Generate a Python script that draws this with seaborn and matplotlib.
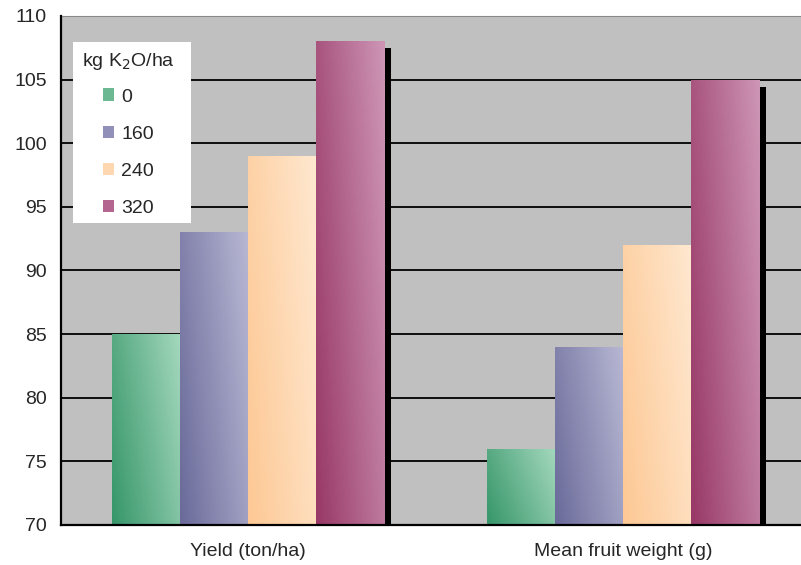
import numpy as np
import pandas as pd
import matplotlib
matplotlib.use('Agg')
import matplotlib.pyplot as plt
import matplotlib.patheffects as pe
from matplotlib.patches import Rectangle, Patch
from matplotlib.colors import to_rgb
import seaborn as sns

# data
measures = ['Yield (ton/ha)', 'Mean fruit weight (g)']
doses = ['0', '160', '240', '320']
yield_vals = [85, 93, 99, 108]
weight_vals = [76, 84, 92, 105]

# dark / light ends of each bar gradient
dark_cols = ['#36966a', '#6a6a9a', '#fdc894', '#983866']
light_cols = ['#a4d8bd', '#b8b8d4', '#ffe8d0', '#ce96b6']
mid_cols = ['#6cb892', '#9090b8', '#ffd8b2', '#b46690']

df = pd.DataFrame({
    'measure': [m for m in measures for _ in doses],
    'dose': doses * 2,
    'value': yield_vals + weight_vals,
})

sns.set_style('white')
plt.rcParams['font.family'] = ['Liberation Sans', 'DejaVu Sans']
fs = 14

fig = plt.figure(figsize=(8.01, 5.65), dpi=100)
ax = fig.add_axes([61 / 801, 40 / 565, 749 / 801, 509 / 565])
ax.set_facecolor('#c0c0c0')

sns.barplot(data=df, x='measure', y='value', hue='dose', palette=mid_cols,
            width=0.727, saturation=1, legend=False, ax=ax, zorder=2,
            edgecolor='none', linewidth=0)

ymin, ymax = 70, 110
ax.set_ylim(ymin, ymax)
ax.set_xlim(-0.5, 1.5)
ax.set_yticks(range(70, 111, 5))
ax.yaxis.grid(True, color='black', lw=1.3)
ax.set_axisbelow(True)

# gradient fill + drop shadow for each bar
n = 80
xx, yy = np.meshgrid(np.linspace(0, 1, n), np.linspace(0, 1, n))
t = np.clip(0.7 * xx + 0.3 * yy, 0, 1)[..., None]
bars = list(ax.patches)
for i, bar in enumerate(bars):
    h = i // len(measures)
    d = np.array(to_rgb(dark_cols[h]))
    l = np.array(to_rgb(light_cols[h]))
    img = d + (l - d) * t
    bar.set_path_effects([pe.SimplePatchShadow(offset=(5, -5), shadow_rgbFace='black', alpha=1),
                          pe.Normal()])
    x0 = bar.get_x()
    top = bar.get_y() + bar.get_height()
    im = ax.imshow(img, extent=[x0, x0 + bar.get_width(), ymin, top],
                   origin='lower', aspect='auto', zorder=3, interpolation='bilinear')
    im.set_clip_path(bar)

ax.set_xlim(-0.5, 1.5)
ax.set_ylim(ymin, ymax)

ax.set_xlabel('')
ax.set_ylabel('')
ax.set_xticks([0, 1])
ax.set_xticklabels(measures, fontsize=fs)
ax.set_xticks([-0.5, 0.5, 1.5], minor=True)
ax.tick_params(axis='x', which='major', length=0, pad=13)
ax.tick_params(axis='x', which='minor', length=5, width=1.2, color='black', direction='out')
ax.tick_params(axis='y', length=5, width=1.2, color='black', direction='out', labelsize=fs, pad=5)

for s in ['left', 'bottom']:
    ax.spines[s].set_color('black')
    ax.spines[s].set_linewidth(1.6)
    ax.spines[s].set_zorder(4)
ax.spines['top'].set_color('#8a8a8a')
ax.spines['right'].set_visible(False)

# legend on a white box
ax.add_patch(Rectangle((12 / 749, (525 - 223) / 509), 118 / 749, 181 / 509,
                       transform=ax.transAxes, facecolor='white', edgecolor='none', zorder=5))
handles = [Patch(facecolor=c, edgecolor='none') for c in mid_cols]
leg = ax.legend(handles, doses, title='kg K$_2$O/ha', loc='upper left',
                bbox_to_anchor=(14 / 749, (525 - 44) / 509), frameon=False,
                fontsize=fs, title_fontsize=fs, handlelength=0.6, handleheight=0.6,
                handletextpad=0.35, labelspacing=1.03, borderaxespad=0, borderpad=0.35)
leg.set_zorder(6)
leg._legend_box.align = 'center'
leg._legend_box.sep = 12

fig.savefig('out.png', dpi=100)
